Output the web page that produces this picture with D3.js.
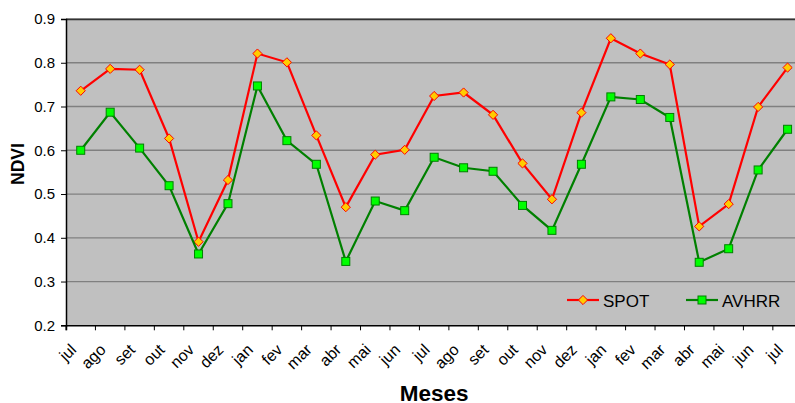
<!DOCTYPE html>
<html>
<head>
<meta charset="utf-8">
<script src="https://cdn.jsdelivr.net/npm/d3@7"></script>
<style>
  body { margin: 0; background: #fff; }
  svg { display: block; }
  svg text { font-family: Arial, "Liberation Sans", sans-serif; }
</style>
</head>
<body>
<svg width="795" height="403"></svg>
<script>
// months (two years + one)
var meses = ["jul","ago","set","out","nov","dez","jan","fev","mar","abr","mai","jun",
             "jul","ago","set","out","nov","dez","jan","fev","mar","abr","mai","jun","jul"];

var spot = [0.736, 0.786, 0.784, 0.627, 0.391, 0.532, 0.821, 0.801, 0.634, 0.470, 0.590, 0.601,
            0.724, 0.732, 0.681, 0.570, 0.488, 0.686, 0.856, 0.821, 0.796, 0.426, 0.477, 0.699, 0.789];

var avhrr = [0.600, 0.687, 0.605, 0.519, 0.363, 0.478, 0.747, 0.622, 0.568, 0.346, 0.484, 0.462,
             0.584, 0.560, 0.552, 0.474, 0.417, 0.568, 0.722, 0.716, 0.675, 0.344, 0.375, 0.555, 0.648];

var yTicks = [0.2, 0.3, 0.4, 0.5, 0.6, 0.7, 0.8, 0.9];

var series = [
	{ name: "SPOT", values: spot, line: "#ff0000", fill: "#ffcc00", stroke: "#ff0000", shape: "diamond" },
	{ name: "AVHRR", values: avhrr, line: "#008000", fill: "#00ff00", stroke: "#008000", shape: "square" }
];

var m = {top: 19, left: 66},
	w = 736.3,
	h = 306.3;

var svg = d3.select("svg");
var g = svg.append("g").attr("transform", "translate(" + m.left + "," + m.top + ")");

var x = d3.scaleBand().domain(d3.range(meses.length)).range([0, w]);
var y = d3.scaleLinear().domain([0.2, 0.9]).range([h, 0]);

// plot background
g.append("rect")
	.attr("width", w).attr("height", h)
	.style("fill", "#c0c0c0");

// grid
g.selectAll(".grid")
	.data(yTicks.slice(1))
	.enter()
	.append("line")
	.attr("x1", 0).attr("x2", w)
	.attr("y1", d => y(d)).attr("y2", d => y(d))
	.style("stroke", "#808080")
	.style("stroke-width", 1.3);

// top border
g.append("line")
	.attr("x1", 0).attr("x2", w).attr("y1", 0.5).attr("y2", 0.5)
	.style("stroke", "#333").style("stroke-width", 1.5);

// y axis
var yAxis = d3.axisLeft(y).tickValues(yTicks).tickFormat(d3.format(".1f")).tickSize(5).tickPadding(6);
var yG = g.append("g").call(yAxis).attr("font-family", null);
yG.select(".domain").style("stroke", "#000").style("stroke-width", 1.5);
yG.selectAll("text").style("font-size", "15px").style("fill", "#000");

// x axis
var xAxis = d3.axisBottom(x).tickSize(5).tickFormat("");
var xG = g.append("g").attr("transform", "translate(0," + h + ")").call(xAxis).attr("font-family", null);
xG.select(".domain").style("stroke", "#000").style("stroke-width", 1.5);
// ticks at band boundaries
xG.selectAll(".tick").remove();
xG.selectAll(".bt")
	.data(d3.range(meses.length + 1))
	.enter()
	.append("line")
	.attr("x1", d => d * x.step()).attr("x2", d => d * x.step())
	.attr("y1", 0).attr("y2", 5)
	.style("stroke", "#000");

xG.selectAll(".lbl")
	.data(meses)
	.enter()
	.append("text")
	.attr("transform", (d, i) => "translate(" + (x(i) + x.bandwidth() / 2 - 3.5) + ",25.5) rotate(-45)")
	.attr("text-anchor", "end")
	.style("font-size", "16px")
	.style("fill", "#000")
	.text(d => d);

// axis titles
svg.append("text")
	.attr("transform", "translate(24,164) rotate(-90)")
	.attr("text-anchor", "middle")
	.style("font-size", "17.5px").style("font-weight", "bold")
	.text("NDVI");

svg.append("text")
	.attr("x", m.left + w / 2).attr("y", 401)
	.attr("text-anchor", "middle")
	.style("font-size", "22.5px").style("font-weight", "bold")
	.text("Meses");

var line = d3.line().x((d, i) => x(i) + x.bandwidth() / 2).y(d => y(d));

function marker(sel, s) {
	if (s.shape == "diamond") {
		sel.append("path").attr("d", "M0,-4.6L4.6,0L0,4.6L-4.6,0Z");
	} else {
		sel.append("rect").attr("x", -4).attr("y", -4).attr("width", 8).attr("height", 8);
	}
	sel.selectAll("path,rect")
		.style("fill", s.fill).style("stroke", s.stroke).style("stroke-width", 1);
}

series.forEach(function (s) {
	g.append("path")
		.datum(s.values)
		.attr("d", line)
		.style("fill", "none")
		.style("stroke", s.line)
		.style("stroke-width", 2.2);

	g.selectAll(".mk-" + s.shape)
		.data(s.values)
		.enter()
		.append("g")
		.attr("class", "mk-" + s.shape)
		.attr("transform", (d, i) => "translate(" + (x(i) + x.bandwidth() / 2) + "," + y(d) + ")")
		.each(function () { marker(d3.select(this), s); });
});

// legend
var legX = [567, 686];
series.forEach(function (s, i) {
	var lg = svg.append("g").attr("transform", "translate(" + legX[i] + ",300)");
	lg.append("line").attr("x1", 0).attr("x2", 32).attr("y1", 0).attr("y2", 0)
		.style("stroke", s.line).style("stroke-width", 2.2);
	var mk = lg.append("g").attr("transform", "translate(16,0)");
	marker(mk, s);
	lg.append("text").attr("x", 36).attr("y", 6.5)
		.style("font-size", "17px").style("fill", "#000")
		.text(s.name);
});
</script>
</body>
</html>
